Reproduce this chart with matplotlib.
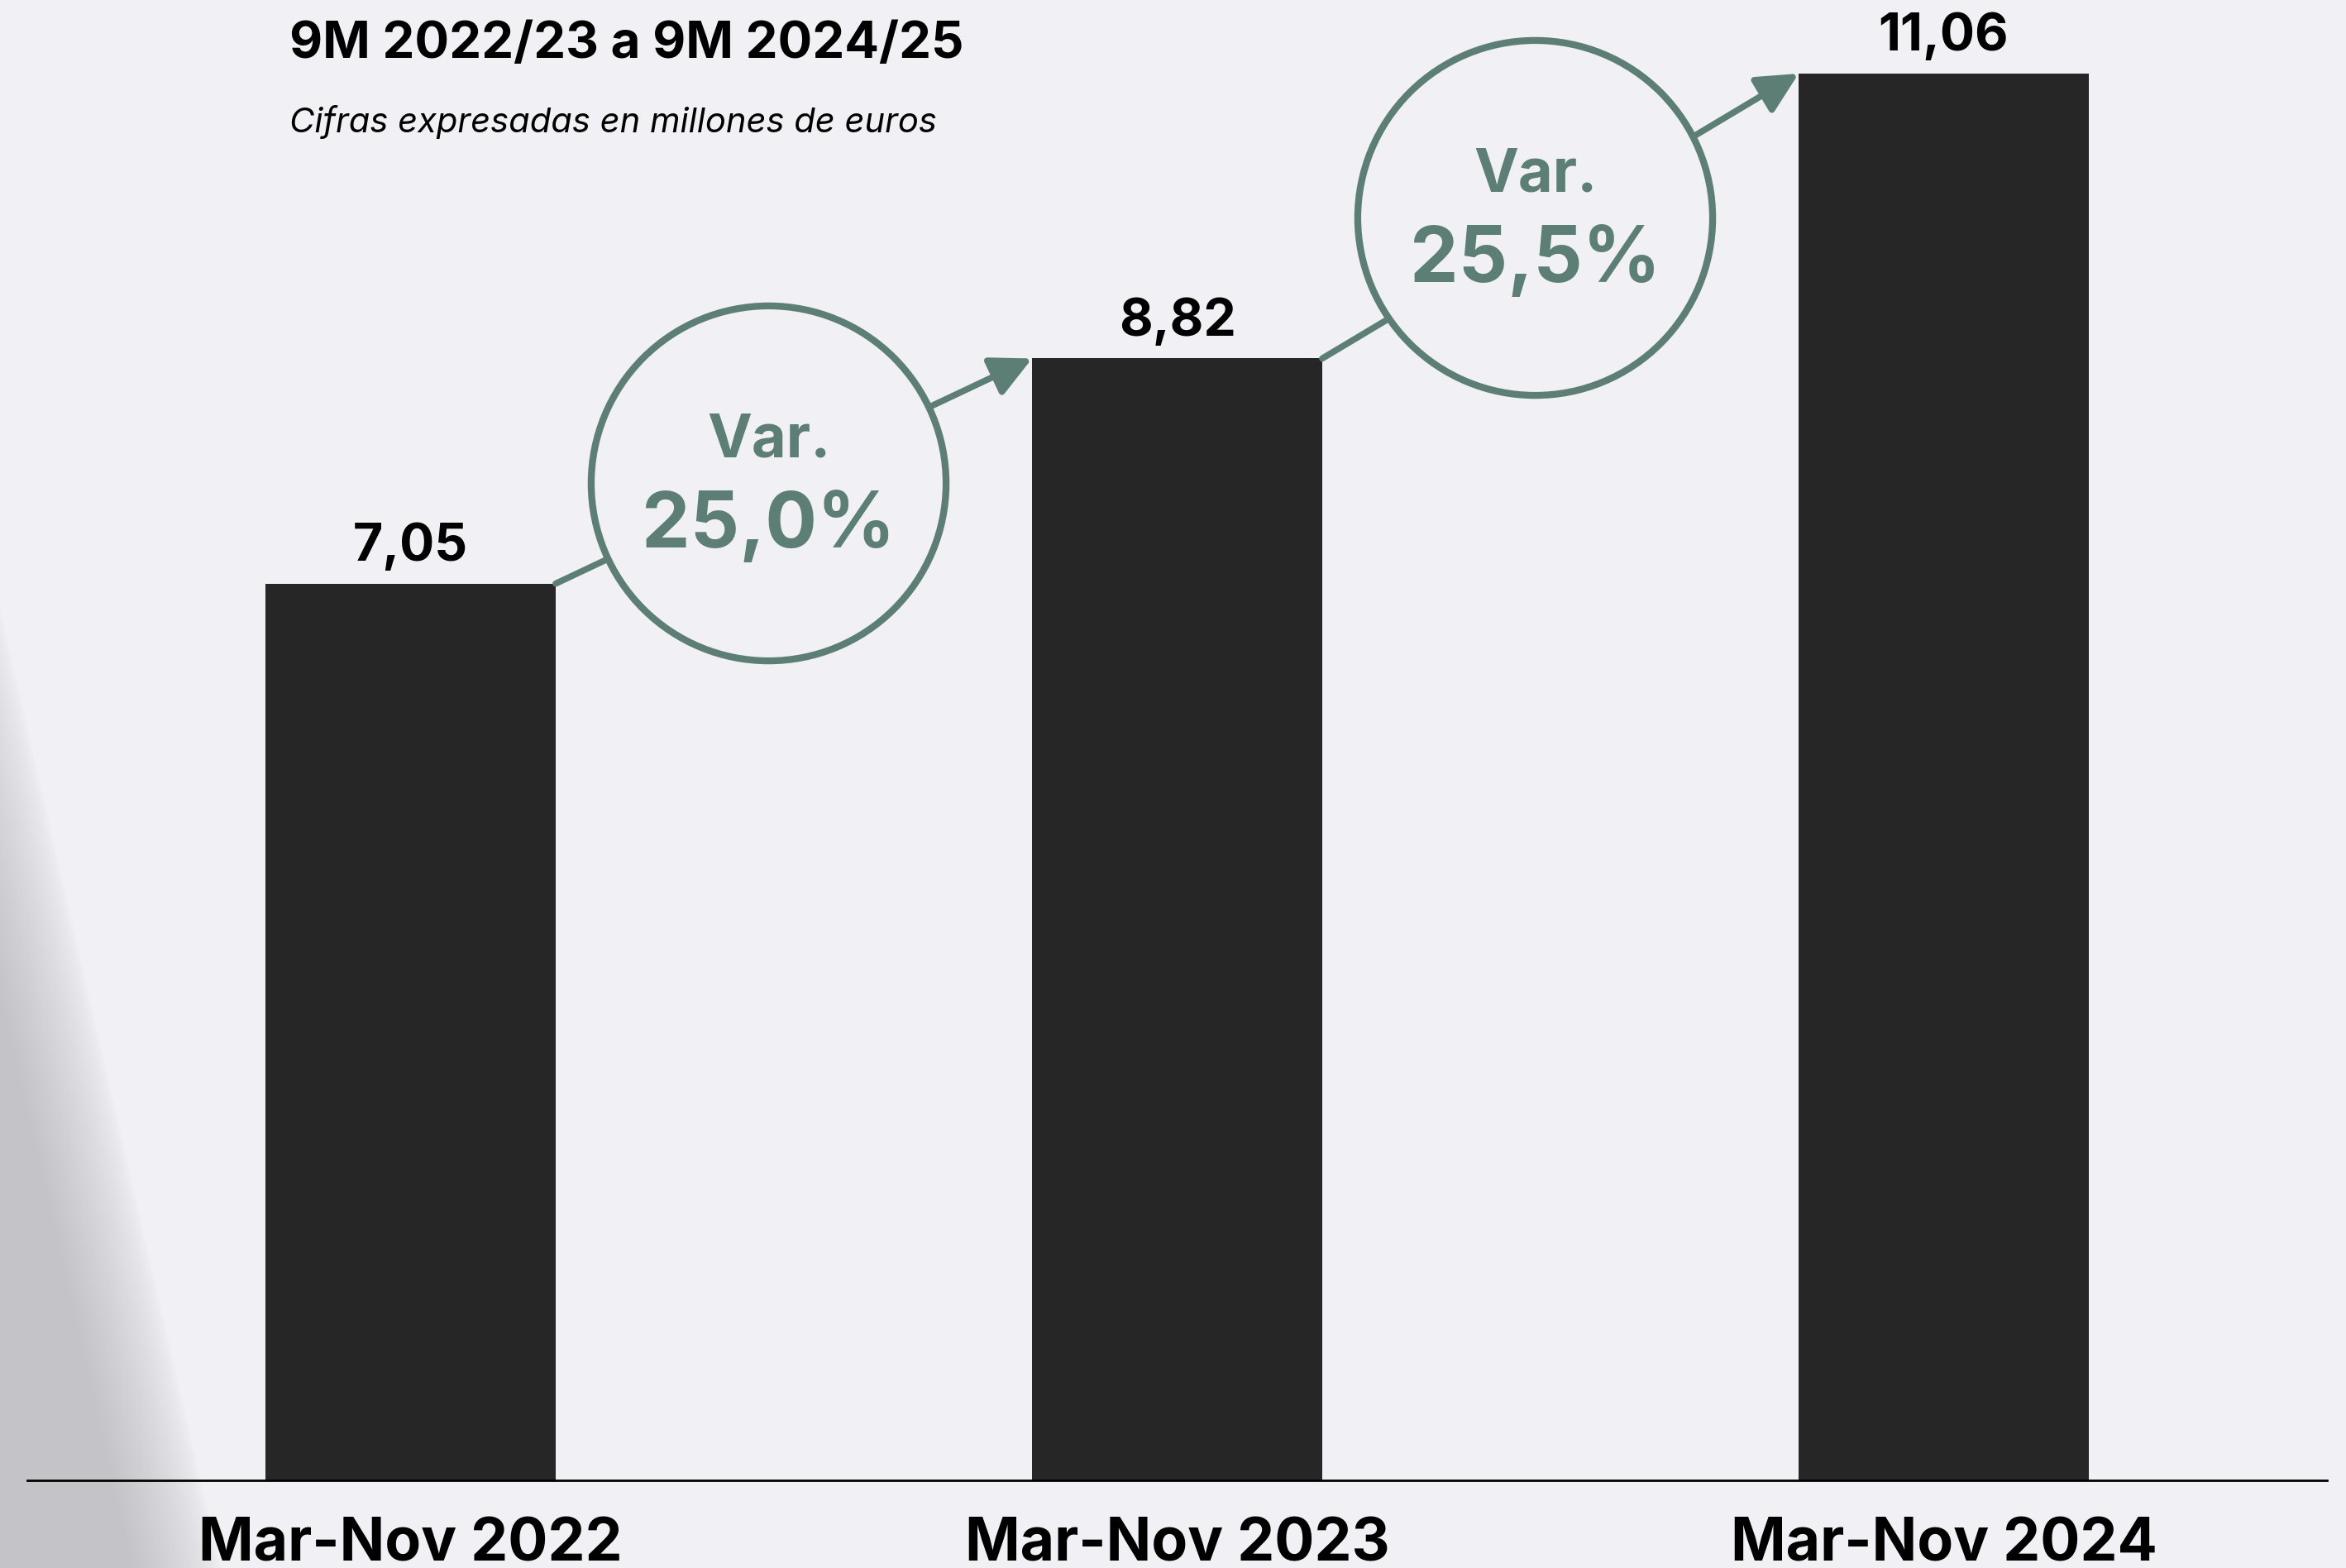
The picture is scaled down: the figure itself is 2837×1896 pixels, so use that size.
import numpy as np
import matplotlib
matplotlib.use("Agg")
import matplotlib.pyplot as plt

# Datos del grafico
periodos = ["Mar-Nov 2022", "Mar-Nov 2023", "Mar-Nov 2024"]
importes = [7.05, 8.82, 11.06]
etiquetas_valor = ["7,05", "8,82", "11,06"]
variaciones = ["25,0%", "25,5%"]

titulo = "9M 2022/23 a 9M 2024/25"
subtitulo = "Cifras expresadas en millones de euros"

FONDO = "#F0F0F5"
BARRA = "#262626"
VERDE = "#5D7E75"

W, H = 2837, 1896
DPI = 100
PX_Y = 153.8  # pixeles por millon

plt.rcParams['font.family'] = ['Inter', 'DejaVu Sans']

fig = plt.figure(figsize=(W / DPI, H / DPI), dpi=DPI, facecolor=FONDO)

# Sombra gris en la esquina inferior izquierda
x0_px, x1_px, y0_px = 0, 440, 650
sombra = fig.add_axes([x0_px / W, 0, (x1_px - x0_px) / W, (H - y0_px) / H], zorder=0)
sombra.set_axis_off()
yy, xx = np.mgrid[y0_px:H, x0_px:x1_px].astype(float)
borde = 130 + 0.23 * (yy - 1300)
alfa = np.clip((borde - xx) / 110.0, 0, 1) ** 0.7
fondo_rgb = np.array([240, 240, 245]) / 255
gris_rgb = np.array([196, 196, 200]) / 255
img = fondo_rgb + (gris_rgb - fondo_rgb) * alfa[..., None]
sombra.imshow(img, aspect='auto', interpolation='bilinear')

# Ejes principales
ax = fig.add_axes([33 / W, (H - 1790) / H, (2814 - 33) / W, 1790 / H], zorder=1)
ax.set_facecolor('none')
ax.set_xlim(-0.5, 2.5)
ax.set_ylim(0, 1790 / PX_Y)
ax.set_axis_off()

x = np.arange(len(periodos))
ancho = 0.3785
ax.bar(x, importes, width=ancho, color=BARRA, zorder=2)
ax.axhline(0, color='black', lw=2, zorder=3, clip_on=False)

for xi, v, txt in zip(x, importes, etiquetas_valor):
    ax.annotate(txt, (xi, v), xytext=(0, 20), textcoords='offset points',
                ha='center', va='baseline', fontsize=45, fontweight='bold',
                color='black', annotation_clip=False)

for xi, nombre in zip(x, periodos):
    ax.annotate(nombre, (xi, 0), xytext=(0, -70), textcoords='offset points',
                ha='center', va='baseline', fontsize=51.5, fontweight='bold',
                color='black', annotation_clip=False)

# Flechas de variacion con circulo
desplaz_circulo = [0, 16 / PX_Y]  # el segundo circulo queda algo por encima de la flecha
for i, var in enumerate(variaciones):
    inicio = (x[i] + ancho / 2, importes[i])
    fin = (x[i + 1] - ancho / 2, importes[i + 1])
    ax.annotate('', xy=fin, xytext=inicio,
                arrowprops=dict(arrowstyle='-|>,head_length=3.0,head_width=1.5',
                                color=VERDE, lw=5.5, shrinkA=0, shrinkB=0,
                                mutation_scale=10),
                zorder=3, annotation_clip=False)
    t = 0.447
    cx = inicio[0] + t * (fin[0] - inicio[0])
    cy = inicio[1] + t * (fin[1] - inicio[1]) + desplaz_circulo[i]
    ax.plot(cx, cy, marker='o', ms=309, mfc=FONDO, mec=VERDE, mew=6,
            zorder=4, clip_on=False)
    ax.annotate('Var.', (cx, cy), xytext=(0, 23), textcoords='offset points',
                ha='center', va='baseline', fontsize=52, fontweight='bold',
                color=VERDE, zorder=5)
    ax.annotate(var, (cx, cy), xytext=(0, -56), textcoords='offset points',
                ha='center', va='baseline', fontsize=67, fontweight='bold',
                color=VERDE, zorder=5)

# Titulos
fig.text(350 / W, 1 - 70 / H, titulo, ha='left', va='baseline',
         fontsize=44.5, fontweight='bold', color='black')
fig.text(350 / W, 1 - 160 / H, subtitulo, ha='left', va='baseline',
         fontsize=30, style='italic', color='black')

fig.savefig('out.png', dpi=DPI, facecolor=FONDO)
